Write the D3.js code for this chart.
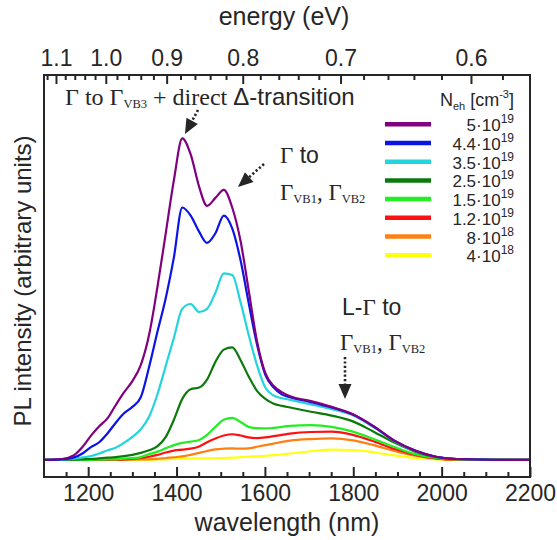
<!DOCTYPE html>
<html><head><meta charset="utf-8">
<script src="https://cdn.jsdelivr.net/npm/d3@7"></script>
<style>body{margin:0;background:#fff}svg{display:block}</style>
</head><body>
<script>
// ---- data ----
const wavelength = [1100,1140,1168,1187,1206,1225,1244,1262,1281,1300,1319,1338,1357,1375,1394,1413,1432,1451,1469,1488,1507,1526,1545,1563,1582,1601,1620,1639,1657,1704,1751,1799,1846,1893,1940,1987,2034,2200];
const s5e19   = [0,0.3,1.5,4,7.5,10.5,13,17,21,24.5,29.5,39,54,70,87,100,95,85,79,81.5,84,78.5,68,53,37,27,23,21,19.8,18.3,16.5,14.2,10.5,6,2.9,1,0.3,0];
const s44e19  = [0,0.2,0.8,2,4,5.5,8.3,11.5,14.5,16.5,19.5,29,40,50,63,78.5,76,71,67.5,70.5,76,72,62,49,36,26.5,22.5,20.3,19.5,18,16.3,14.1,10.4,6,2.9,1,0.3,0];
const s35e19  = [0,0.1,0.4,0.8,1.2,2,3,3.8,5.3,7.2,9.5,13.5,20.5,29,38,47,48.5,46,47,52,58,57.5,49,39,29.5,22.5,20,19.2,18.7,17.3,15.8,13.9,10.2,5.9,2.8,1,0.3,0];
const s25e19  = [0,0.05,0.1,0.2,0.3,0.5,0.7,0.9,1.2,1.6,2.2,3,4.3,7,12.5,19,22,22.5,25,30.5,34.3,35,31,26,21.5,19,17.5,16.8,16.3,15,13.8,12,8.8,5.4,2.6,0.9,0.3,0];
const s15e19  = [0,0,0,0,0.05,0.1,0.15,0.2,0.4,0.6,0.9,1.8,2.6,3.6,4.6,5.3,5.7,6.2,7.8,10.3,12.5,13.1,11.8,10.3,9.9,9.8,10,10.3,10.6,10.8,10.3,8.8,6.5,4,1.8,0.6,0.2,0];
const s12e19  = [0,0,0,0,0,0,0.05,0.1,0.2,0.4,0.6,1,1.6,2.3,2.9,3.2,3.5,4.2,5.5,6.7,7.6,8,7.6,7,6.8,7,7.4,7.8,8.2,8.7,8.8,7.8,5.8,3.4,1.6,0.5,0.1,0];
const s8e18   = [0,0,0,0,0,0,0,0,0.05,0.1,0.15,0.2,0.35,0.6,0.85,1.1,1.6,2.2,2.8,3.3,3.5,3.6,3.5,3.6,4.1,4.6,5.1,5.6,6,6.5,6.7,6.1,4.6,2.8,1.3,0.4,0.1,0];
const s4e18   = [0,0,0,0,0,0,0,0,0,0,0.05,0.1,0.15,0.2,0.3,0.4,0.45,0.5,0.5,0.55,0.6,0.7,0.85,1,1.15,1.3,1.5,1.7,2,2.7,3.2,3.1,2.4,1.4,0.6,0.2,0,0];

const seriesValues = [s5e19, s44e19, s35e19, s25e19, s15e19, s12e19, s8e18, s4e18];
const seriesColors = ["#800080","#0a14e6","#22d4dc","#0b7a0b","#22ee22","#ff1010","#ff8010","#ffff10"];
const legendMantissa = ["5","4.4","3.5","2.5","1.5","1.2","8","4"];
const legendExponent = ["19","19","19","19","19","19","18","18"];

const wlTicks = [1200,1400,1600,1800,2000,2200];
const wlLabels = ["1200","1400","1600","1800","2000","2200"];
const wlMinor = [1150,1250,1300,1350,1450,1500,1550,1650,1700,1750,1850,1900,1950,2050,2100,2150];
const eTicks = [1.1,1.0,0.9,0.8,0.7,0.6];
const eLabels = ["1.1","1.0","0.9","0.8","0.7","0.6"];
const eMinor = [1.12,1.08,1.06,1.04,1.02,0.98,0.96,0.94,0.92,0.88,0.86,0.84,0.82,0.78,0.76,0.74,0.72,0.68,0.66,0.64,0.62,0.58];
const hc = 1239.84;

// ---- chart ----
const W = 557, H = 540;
const L = 44, R = 530, T = 75, B = 477;
const svg = d3.select("body").append("svg").attr("width", W).attr("height", H);
const x = d3.scaleLinear().domain([1100, 2200]).range([L, R]);
const y = d3.scaleLinear().domain([-5.3, 119.7]).range([B, T]);
const sans = "Liberation Sans, Arial, sans-serif";
const serif = "Liberation Serif, Times New Roman, serif";
const ink = "#262626";

const line = d3.line().x((d, i) => x(wavelength[i])).y(d => y(d)).curve(d3.curveMonotoneX);
const plot = svg.append("g");
for (let k = seriesValues.length - 1; k >= 0; k--) {
  plot.append("path").datum(seriesValues[k]).attr("d", line)
    .attr("fill", "none").attr("stroke", seriesColors[k]).attr("stroke-width", 2.2)
    .attr("stroke-linejoin", "round");
}

// axes
const gB = svg.append("g").attr("transform", `translate(0,${B})`)
  .call(d3.axisBottom(x).tickValues(wlTicks).tickFormat((d, i) => wlLabels[i])
    .tickSizeInner(-10).tickSizeOuter(0).tickPadding(8));
const gBm = svg.append("g").attr("transform", `translate(0,${B})`)
  .call(d3.axisBottom(x).tickValues(wlMinor).tickSizeInner(-5).tickSizeOuter(0).tickFormat(""));
const gT = svg.append("g").attr("transform", `translate(0,${T})`)
  .call(d3.axisTop(x).tickValues(eTicks.map(e => hc / e)).tickFormat((d, i) => eLabels[i])
    .tickSizeInner(-9).tickSizeOuter(0).tickPadding(9));
const gTm = svg.append("g").attr("transform", `translate(0,${T})`)
  .call(d3.axisTop(x).tickValues(eMinor.map(e => hc / e)).tickSizeInner(-5).tickSizeOuter(0).tickFormat(""));
[gB, gBm, gT, gTm].forEach(g => {
  g.select(".domain").remove();
  g.selectAll(".tick line").attr("stroke", ink).attr("stroke-width", 2);
  g.selectAll("text").attr("font-family", sans).attr("font-size", 23).attr("fill", ink);
});

// frame
svg.append("rect").attr("x", L).attr("y", T).attr("width", R - L).attr("height", B - T)
  .attr("fill", "none").attr("stroke", ink).attr("stroke-width", 2);

// axis titles
svg.append("text").attr("x", (L + R) / 2).attr("y", 531).attr("text-anchor", "middle")
  .attr("font-family", sans).attr("font-size", 25).attr("fill", ink).text("wavelength (nm)");
svg.append("text").attr("x", 284).attr("y", 25).attr("text-anchor", "middle")
  .attr("font-family", sans).attr("font-size", 25).attr("fill", ink).text("energy (eV)");
svg.append("text").attr("transform", `translate(31,281) rotate(-90)`).attr("text-anchor", "middle")
  .attr("font-family", sans).attr("font-size", 24).attr("fill", ink).text("PL intensity (arbitrary units)");

// legend
const lg = svg.append("g");
const t0 = lg.append("text").attr("x", 514).attr("y", 106).attr("text-anchor", "end")
  .attr("font-family", sans).attr("font-size", 18).attr("fill", ink);
t0.append("tspan").text("N");
t0.append("tspan").attr("font-size", 11).attr("dy", 4).text("eh");
t0.append("tspan").attr("dy", -4).text(" [cm");
t0.append("tspan").attr("font-size", 11).attr("dy", -8).text("-3");
t0.append("tspan").attr("dy", 8).text("]");
legendMantissa.forEach((m, i) => {
  const cy = 124.3 + i * 18.7;
  lg.append("line").attr("x1", 385).attr("x2", 431).attr("y1", cy).attr("y2", cy)
    .attr("stroke", seriesColors[i]).attr("stroke-width", 4.5);
  const t = lg.append("text").attr("x", 514).attr("y", cy + 7).attr("text-anchor", "end")
    .attr("font-family", sans).attr("font-size", 17).attr("fill", ink);
  t.append("tspan").text(m + "\u00B710");
  t.append("tspan").attr("font-size", 12).attr("dy", -8).text(legendExponent[i]);
});

// annotations
function arrow(x1, y1, x2, y2) {
  const dx = x2 - x1, dy = y2 - y1, len = Math.hypot(dx, dy);
  const ux = dx / len, uy = dy / len, hl = 15, hw = 6.5;
  const bx = x2 - ux * hl, by = y2 - uy * hl;
  svg.append("line").attr("x1", x1).attr("y1", y1).attr("x2", bx + ux * 2).attr("y2", by + uy * 2)
    .attr("stroke", ink).attr("stroke-width", 2.6).attr("stroke-dasharray", "2.2,2.2");
  svg.append("path").attr("d", `M${x2},${y2}L${bx - uy * hw},${by + ux * hw}L${bx + uy * hw},${by - ux * hw}Z`)
    .attr("fill", ink);
}
arrow(198, 110, 185, 134);
arrow(264, 164, 238, 187);
arrow(345, 357, 345, 399);

function ann(xp, yp, size, parts) {
  const t = svg.append("text").attr("x", xp).attr("y", yp).attr("fill", ink).attr("font-size", size);
  parts.forEach(p => {
    const s = t.append("tspan").attr("font-family", p.f === "s" ? sans : serif).text(p.t);
    if (p.sub) s.attr("font-size", 12.5).attr("dy", 3);
    if (p.up) s.attr("dy", -3);
  });
}
ann(65, 105, 24, [{t:"\u0393 to \u0393", f:"r"}, {t:"VB3", f:"r", sub:1},
  {t:" + direct ", f:"r", up:1}, {t:"\u0394-transition", f:"s"}]);
ann(280, 163, 23, [{t:"\u0393", f:"r"}, {t:" to", f:"s"}]);
ann(280, 200, 23, [{t:"\u0393", f:"r"}, {t:"VB1", f:"r", sub:1}, {t:", ", f:"r", up:1}, {t:"\u0393", f:"r"}, {t:"VB2", f:"r", sub:1}]);
ann(342, 315, 23, [{t:"L-", f:"s"}, {t:"\u0393", f:"r"}, {t:" to", f:"s"}]);
ann(340, 350, 23, [{t:"\u0393", f:"r"}, {t:"VB1", f:"r", sub:1}, {t:", ", f:"r", up:1}, {t:"\u0393", f:"r"}, {t:"VB2", f:"r", sub:1}]);
</script>
</body></html>
